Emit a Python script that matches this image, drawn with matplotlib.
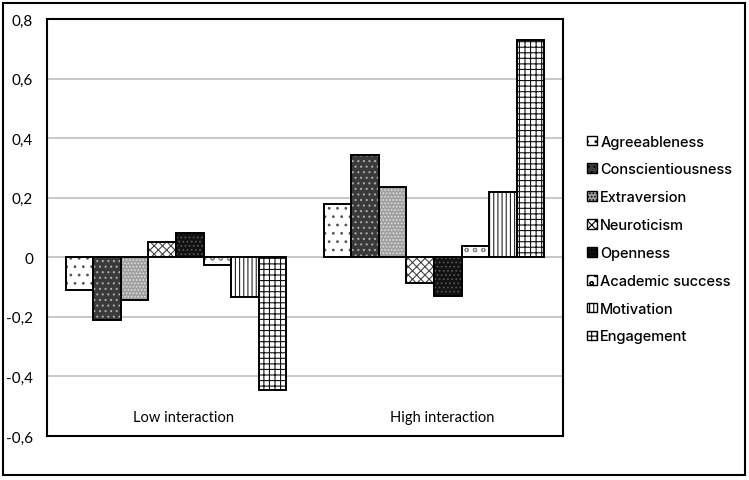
import numpy as np
import matplotlib.pyplot as plt
from matplotlib.patches import Rectangle
from matplotlib.ticker import FuncFormatter

groups = ['Low interaction', 'High interaction']
traits = ['Agreeableness', 'Conscientiousness', 'Extraversion', 'Neuroticism',
          'Openness', 'Academic success', 'Motivation', 'Engagement']
low_vals = [-0.11, -0.21, -0.145, 0.05, 0.08, -0.025, -0.135, -0.445]
high_vals = [0.178, 0.342, 0.235, -0.085, -0.13, 0.037, 0.218, 0.73]

# fill colour and hatch per trait
fills = ['white', '#3a3a3a', '#a0a0a0', 'white', '#111111', 'white', 'white', 'white']
hatches = ['..', '...', '.....', 'xxxx', '....', 'oo', '||||', '+++']
hatch_cols = ['#555555', '#a8a8a8', '#dddddd', '#444444', '#555555', '#888888', '#222222', '#111111']

plt.rcParams['hatch.linewidth'] = 0.8

fig = plt.figure(figsize=(7.49, 4.81), dpi=100)
ax = fig.add_axes([47 / 749, 1 - 437 / 481, 516 / 749, 417 / 481])

x = np.arange(len(groups))
n = len(traits)
group_w = 0.853
w = group_w / n
vals = np.array([low_vals, high_vals])
for i, t in enumerate(traits):
    pos = x - group_w / 2 + w * (i + 0.5)
    ax.bar(pos, vals[:, i], w, color=fills[i], edgecolor=hatch_cols[i],
           hatch=hatches[i], linewidth=0, zorder=3)
    # black outline on top of hatch
    ax.bar(pos, vals[:, i], w, color='none', edgecolor='black', linewidth=1.4, zorder=4)

ax.set_xlim(-0.5, 1.5)
ax.set_ylim(-0.6, 0.8)
ax.set_yticks(np.arange(-0.6, 0.81, 0.2))
ax.yaxis.set_major_formatter(FuncFormatter(
    lambda v, p: '0' if abs(v) < 1e-9 else ('%.1f' % v).replace('.', ',')))
ax.tick_params(axis='y', length=0, pad=10, labelsize=11)
for lbl in ax.get_yticklabels():
    lbl.set_fontfamily('Lato')
ax.set_xticks([])
ax.grid(axis='y', color='#bdbdbd', linewidth=1.2, zorder=0)
for s in ax.spines.values():
    s.set_linewidth(1.5)
    s.set_color('black')

for xi, g in zip(x, groups):
    ax.text(xi + 0.03, -0.535, g, ha='center', va='center', fontsize=10.5, family='Lato')

handles = []
for i, t in enumerate(traits):
    handles.append(Rectangle((0, 0), 1, 1, facecolor=fills[i], edgecolor='black',
                             hatch=hatches[i], linewidth=1))
fig.legend(handles, traits, loc='center left', bbox_to_anchor=(574 / 749, 1 - 240 / 481),
           frameon=False, handlelength=0.65, handleheight=0.65,
           handletextpad=0.25, labelspacing=0.95,
           prop={'family': 'Inter', 'size': 10.5, 'weight': 'medium'})

fig.patches.append(Rectangle((3 / 749, 5 / 481), 742 / 749, 472 / 481,
                             transform=fig.transFigure, fill=False,
                             edgecolor='black', linewidth=1.5))

fig.savefig('out.png', dpi=100)
